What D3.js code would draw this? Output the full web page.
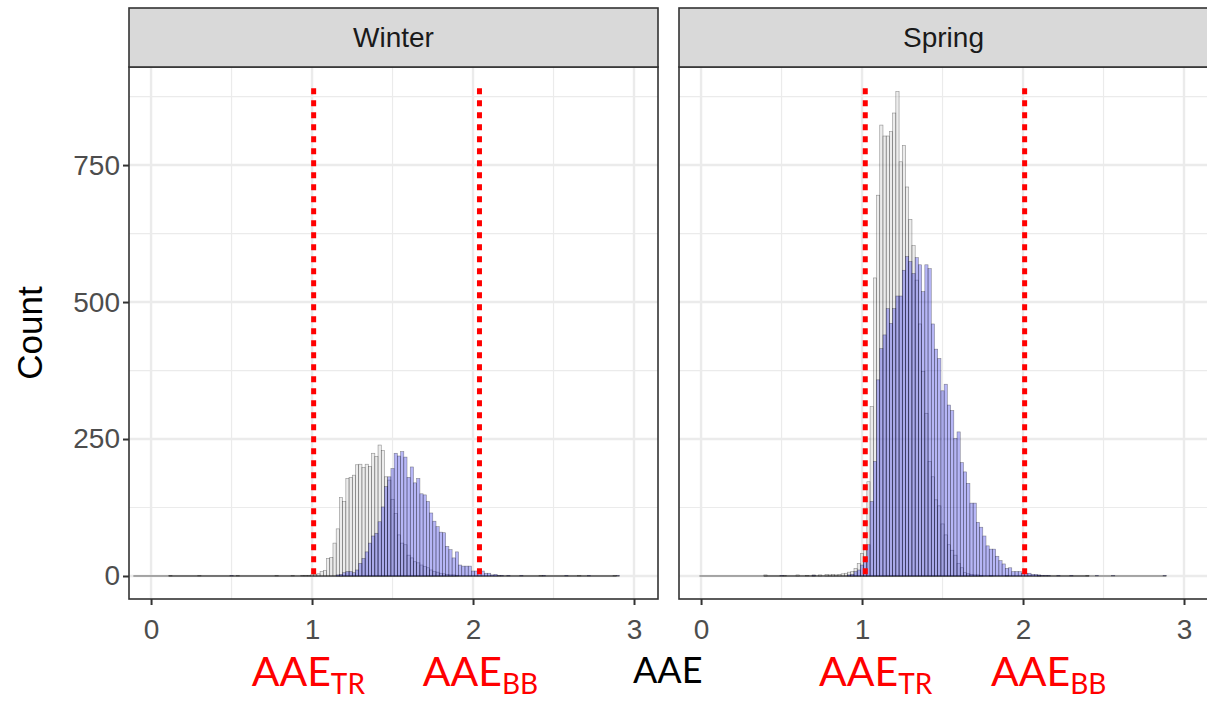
<!DOCTYPE html>
<html><head><meta charset="utf-8">
<script src="https://cdn.jsdelivr.net/npm/d3@7"></script>
<style>body{margin:0;background:#fff;} svg{display:block;}</style>
</head><body><svg id="chart" width="1207" height="703"></svg>
<script>
// ---------------- data ----------------
const panels = ["Winter", "Spring"];
const binWidth = 0.02;
const xTicks = [0, 1, 2, 3];
const yTicks = [0, 250, 500, 750];
const xMinor = [0.5, 1.5, 2.5];
const yMinor = [125, 375, 625, 875];

// grey histogram (first series), counts per 0.02 bin starting at the given centre
const winterGreyStart = 1.00;
const winterGreyCounts = [2,3,4,8,10,32,34,60,86,143,136,178,180,184,203,204,198,204,200,224,218,239,229,181,175,140,114,75,60,57,38,33,26,24,20,17,15,11,8,7,5,4,3,2,2,1];
const winterGreyTail = [[0.12,1],[0.30,1],[0.54,1],[0.78,1],[0.88,1],[0.94,1],[0.96,1],[0.98,1],[2.42,1],[2.66,1],[2.88,1]];

// blue histogram (second series)
const winterBlueStart = 1.16;
const winterBlueCounts = [2,3,6,8,8,6,11,23,32,44,60,73,78,99,126,163,181,196,224,219,227,217,180,199,170,178,150,148,136,115,100,90,80,79,54,48,33,44,20,18,18,18,9,9,10,9,5,5,2,3,1,1];
const winterBlueTail = [[-0.10,0],[0.50,1],[2.22,1],[2.30,1],[2.44,1],[2.58,1],[2.72,1],[2.90,1]];

const springGreyStart = 0.86;
const springGreyCounts = [3,4,5,7,8,14,23,41,54,172,309,544,695,823,803,803,811,845,884,756,786,710,651,603,540,460,373,297,209,181,139,128,95,75,57,47,38,23,15,6,4,3,2,2,1];
const springGreyTail = [[0.40,2],[0.52,1],[0.60,2],[0.66,1],[0.70,2],[0.74,2],[0.78,3],[0.80,2],[0.82,3],[0.84,2],[1.80,1],[1.90,1],[2.10,1],[2.40,1]];

const springBlueStart = 0.92;
const springBlueCounts = [2,3,8,11,20,32,57,136,209,358,415,440,488,461,488,511,511,558,583,574,552,581,568,519,568,561,460,414,397,338,350,312,302,251,263,207,190,169,133,133,98,89,73,55,49,49,36,28,22,14,15,8,8,8,5,5,5,3,3,2,1,1,1];
const springBlueTail = [[0.00,0],[0.50,1],[0.70,1],[2.22,1],[2.30,1],[2.46,1],[2.56,1],[2.88,1]];

// reference AAE values (red dashed lines) and their labels
const winterRefLines = [1.01, 2.04];
const springRefLines = [1.02, 2.01];
const refLineTop = 890;
const refLabelSubs = ["TR", "BB"];
const winterLabelStarts = [0.625, 1.688];
const springLabelStarts = [0.733, 1.801];

// ---------------- helpers ----------------
function makeBins(start, counts, tail) {
  const bins = counts.map((c, i) => ({ c: start + i * binWidth, n: c }));
  tail.forEach(([c, n]) => bins.push({ c, n }));
  return bins;
}
const panelData = {
  Winter: { grey: makeBins(winterGreyStart, winterGreyCounts, winterGreyTail),
            blue: makeBins(winterBlueStart, winterBlueCounts, winterBlueTail),
            refs: winterRefLines, labels: winterLabelStarts },
  Spring: { grey: makeBins(springGreyStart, springGreyCounts, springGreyTail),
            blue: makeBins(springBlueStart, springBlueCounts, springBlueTail),
            refs: springRefLines, labels: springLabelStarts }
};

// ---------------- layout ----------------
const svg = d3.select("#chart");
const W = 529, stripTop = 8, stripH = 59, panelTop = 67, panelH = 532;
const lefts = [129, 679];
const x = d3.scaleLinear().domain([-0.137, 3.149]).range([0, W]);
const y = d3.scaleLinear().domain([-42, 929]).range([panelH, 0]);
const axisFont = "'Liberation Sans', Arial, sans-serif";
const pptFont = "Lato, 'Open Sans', sans-serif";

svg.append("defs").append("clipPath").attr("id", "clip")
  .append("rect").attr("width", W).attr("height", panelH);

panels.forEach((name, pi) => {
  const d = panelData[name];
  const g = svg.append("g").attr("transform", `translate(${lefts[pi]},${panelTop})`);
  const inner = g.append("g").attr("clip-path", "url(#clip)");
  inner.append("rect").attr("width", W).attr("height", panelH).attr("fill", "#fff");

  // grid
  inner.selectAll(".vmin").data(xMinor).join("line")
    .attr("x1", v => x(v)).attr("x2", v => x(v)).attr("y1", 0).attr("y2", panelH)
    .attr("stroke", "#EBEBEB").attr("stroke-width", 1.2);
  inner.selectAll(".hmin").data(yMinor).join("line")
    .attr("y1", v => y(v)).attr("y2", v => y(v)).attr("x1", 0).attr("x2", W)
    .attr("stroke", "#EBEBEB").attr("stroke-width", 1.2);
  inner.selectAll(".vmaj").data(xTicks).join("line")
    .attr("x1", v => x(v)).attr("x2", v => x(v)).attr("y1", 0).attr("y2", panelH)
    .attr("stroke", "#EBEBEB").attr("stroke-width", 2.4);
  inner.selectAll(".hmaj").data(yTicks).join("line")
    .attr("y1", v => y(v)).attr("y2", v => y(v)).attr("x1", 0).attr("x2", W)
    .attr("stroke", "#EBEBEB").attr("stroke-width", 2.4);

  // histograms
  const series = [
    { bins: d.grey, fill: "#D0D0D0", op: 0.4 },
    { bins: d.blue, fill: "#3535E6", op: 0.36 }
  ];
  series.forEach(s => {
    const ext = d3.extent(s.bins, b => b.c);
    inner.append("line")
      .attr("x1", x(ext[0] - binWidth / 2)).attr("x2", x(ext[1] + binWidth / 2))
      .attr("y1", y(0)).attr("y2", y(0))
      .attr("stroke", "#000").attr("stroke-opacity", 0.6).attr("stroke-width", 1);
    inner.append("g").selectAll("rect").data(s.bins.filter(b => b.n > 0)).join("rect")
      .attr("x", b => x(b.c - binWidth / 2))
      .attr("width", b => x(b.c + binWidth / 2) - x(b.c - binWidth / 2))
      .attr("y", b => y(b.n))
      .attr("height", b => y(0) - y(b.n))
      .attr("fill", s.fill).attr("fill-opacity", s.op)
      .attr("stroke", "#000").attr("stroke-opacity", 0.42).attr("stroke-width", 0.6);
  });

  // reference lines
  inner.selectAll(".ref").data(d.refs).join("line")
    .attr("x1", v => x(v)).attr("x2", v => x(v))
    .attr("y1", y(refLineTop)).attr("y2", y(0))
    .attr("stroke", "#FF0000").attr("stroke-width", 5).attr("stroke-dasharray", "6,6");

  // panel border
  g.append("rect").attr("width", W).attr("height", panelH)
    .attr("fill", "none").attr("stroke", "#333").attr("stroke-width", 1.6);

  // strip
  const strip = svg.append("g").attr("transform", `translate(${lefts[pi]},${stripTop})`);
  strip.append("rect").attr("width", W).attr("height", stripH)
    .attr("fill", "#D9D9D9").attr("stroke", "#333").attr("stroke-width", 1.6);
  strip.append("text").attr("x", W / 2).attr("y", stripH / 2).attr("dy", "0.35em")
    .attr("text-anchor", "middle").attr("font-family", axisFont).attr("font-size", 28)
    .attr("fill", "#1A1A1A").text(name);

  // x axis
  const xa = g.append("g").attr("transform", `translate(0,${panelH})`)
    .call(d3.axisBottom(x).tickValues(xTicks).tickSize(6).tickPadding(14).tickFormat(d3.format("d")));
  xa.select(".domain").remove();
  xa.selectAll("line").attr("stroke", "#333").attr("stroke-width", 2);
  xa.selectAll("text").attr("font-family", axisFont).attr("font-size", 28).attr("fill", "#4D4D4D");

  // y axis on first panel only
  if (pi === 0) {
    const ya = g.append("g")
      .call(d3.axisLeft(y).tickValues(yTicks).tickSize(6).tickPadding(3));
    ya.select(".domain").remove();
    ya.selectAll("line").attr("stroke", "#333").attr("stroke-width", 2);
    ya.selectAll("text").attr("font-family", axisFont).attr("font-size", 28).attr("fill", "#4D4D4D");
  }

  // red reference labels
  d.labels.forEach((v, li) => {
    const t = g.append("text").attr("x", x(v)).attr("y", 686 - panelTop)
      .attr("font-family", pptFont).attr("font-size", 41).attr("fill", "#FF0000");
    t.append("tspan").text("AAE");
    t.append("tspan").attr("font-size", 28).attr("dy", 8).text(refLabelSubs[li]);
  });
});

// axis titles
svg.append("text").attr("transform", "translate(42,333) rotate(-90)")
  .attr("text-anchor", "middle").attr("font-family", axisFont).attr("font-size", 35)
  .attr("fill", "#000").text("Count");
svg.append("text").attr("x", 633).attr("y", 683)
  .attr("font-family", pptFont).attr("font-size", 36).attr("fill", "#000").text("AAE");
</script>
</body></html>
